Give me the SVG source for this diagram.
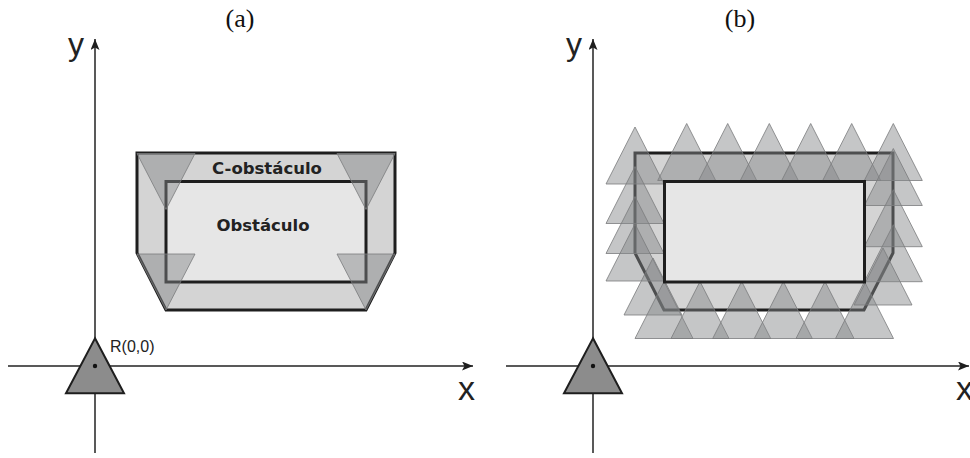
<svg xmlns="http://www.w3.org/2000/svg" xmlns:xlink="http://www.w3.org/1999/xlink" width="970" height="458" viewBox="0 0 970 458">
<style>
.axis{stroke:#222;stroke-width:1.5;fill:none}
.cobs{fill:#d4d4d4;stroke:#1e1e1e;stroke-width:3;stroke-linejoin:miter}
.obs{fill:#e6e6e6;stroke:#1e1e1e;stroke-width:3}
.ghost{fill:#848687;fill-opacity:0.47;stroke:#7a7c7d;stroke-width:1;stroke-opacity:0.8}
.robot{fill:#8c8c8c;stroke:#1e1e1e;stroke-width:2;stroke-linejoin:miter}
.axlbl{font-family:"Liberation Sans",Arial,sans-serif;fill:#222}
.cap{font-family:"Liberation Serif","Times New Roman",serif;font-size:26px;fill:#111;text-anchor:middle}
.bold{font-family:"DejaVu Sans",Verdana,sans-serif;font-weight:bold;font-size:16.5px;fill:#222;text-anchor:middle}
</style>
<defs>
<marker id="arr" markerWidth="12" markerHeight="10" refX="11" refY="4.5" orient="auto" markerUnits="userSpaceOnUse">
<path d="M0,0 L11,4.5 L0,9 L2.5,4.5 z" fill="#1e1e1e"/>
</marker>
<polygon id="tri" points="0,-28.5 29,28.5 -29,28.5"/>
<polygon id="itri" points="0,28 29,-28 -29,-28"/>
</defs>

<g id="connectors">
<line class="axis" x1="95" y1="453" x2="95" y2="39" marker-end="url(#arr)"/>
<line class="axis" x1="8" y1="366" x2="473" y2="366" marker-end="url(#arr)"/>
<line class="axis" x1="593" y1="453" x2="593" y2="39" marker-end="url(#arr)"/>
<line class="axis" x1="506" y1="366" x2="969" y2="366" marker-end="url(#arr)"/>
</g>

<g id="panel-a">
<text class="cap" x="240" y="27">(a)</text>
<text class="axlbl" x="68" y="55" font-size="32">y</text>
<text class="axlbl" x="458" y="400" font-size="34">x</text>
<g id="c-obstacle-a">
<polygon class="cobs" points="137,153 395,153 395,253 366,310 166,310 137,253"/>
<text class="bold" x="267" y="174">C-obstáculo</text>
</g>
<g id="obstacle-a">
<rect class="obs" x="166" y="181.5" width="200" height="100.5"/>
<text class="bold" x="263" y="231">Obstáculo</text>
</g>
<g id="ghosts-a">
<use xlink:href="#itri" class="ghost" x="166" y="181.5"/>
<use xlink:href="#itri" class="ghost" x="366" y="181.5"/>
<use xlink:href="#itri" class="ghost" x="166" y="282"/>
<use xlink:href="#itri" class="ghost" x="366" y="282"/>
</g>
<g id="robot-a">
<polygon class="robot" points="95,338.3 124,393.3 66,393.3"/>
<circle cx="95" cy="366" r="2.2" fill="#111"/>
<text class="axlbl" x="110" y="352" font-size="16">R(0,0)</text>
</g>
</g>

<g id="panel-b">
<text class="cap" x="740" y="27">(b)</text>
<text class="axlbl" x="566" y="55" font-size="32">y</text>
<text class="axlbl" x="956" y="400" font-size="34">x</text>
<g id="c-obstacle-b">
<polygon class="cobs" points="635,153 893,153 893,253 864,310 664,310 635,253"/>
</g>
<g id="ghosts-b">
<use xlink:href="#tri" class="ghost" x="635" y="155.5"/>
<use xlink:href="#tri" class="ghost" x="686.7" y="152"/>
<use xlink:href="#tri" class="ghost" x="727.7" y="152"/>
<use xlink:href="#tri" class="ghost" x="769.3" y="152"/>
<use xlink:href="#tri" class="ghost" x="810.7" y="152"/>
<use xlink:href="#tri" class="ghost" x="851.7" y="152"/>
<use xlink:href="#tri" class="ghost" x="893.3" y="152"/>
<use xlink:href="#tri" class="ghost" x="635" y="195"/>
<use xlink:href="#tri" class="ghost" x="635" y="225"/>
<use xlink:href="#tri" class="ghost" x="635" y="252.5"/>
<use xlink:href="#tri" class="ghost" x="653" y="286.5"/>
<use xlink:href="#tri" class="ghost" x="664" y="310"/>
<use xlink:href="#tri" class="ghost" x="700" y="310"/>
<use xlink:href="#tri" class="ghost" x="741.7" y="310"/>
<use xlink:href="#tri" class="ghost" x="783.3" y="310"/>
<use xlink:href="#tri" class="ghost" x="825" y="310"/>
<use xlink:href="#tri" class="ghost" x="864.5" y="310"/>
<use xlink:href="#tri" class="ghost" x="893.3" y="177"/>
<use xlink:href="#tri" class="ghost" x="893.3" y="218.2"/>
<use xlink:href="#tri" class="ghost" x="893.3" y="253.2"/>
<use xlink:href="#tri" class="ghost" x="883" y="276.5"/>
</g>
<g id="obstacle-b">
<rect class="obs" x="664.5" y="181.5" width="200" height="100.5"/>
</g>
<g id="robot-b">
<polygon class="robot" points="593,338.3 622,393.3 564,393.3"/>
<circle cx="593" cy="366" r="2.2" fill="#111"/>
</g>
</g>
</svg>
